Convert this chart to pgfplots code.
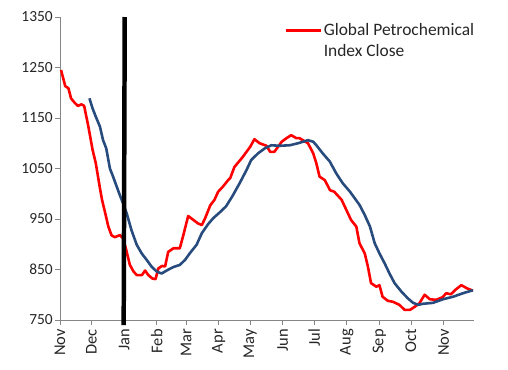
\documentclass[border=0pt]{standalone}
\usepackage{pgfplots}
\pgfplotsset{compat=1.18}
\usepackage{fontspec}
\setmainfont{Carlito}
\definecolor{redline}{RGB}{255,0,0}
\definecolor{blueline}{RGB}{40,75,125}
\definecolor{axisgray}{RGB}{134,134,134}
\begin{document}
\begin{tikzpicture}
\useasboundingbox (-60bp,-50bp) rectangle (448bp,320bp);
\begin{axis}[
  at={(0,0)}, anchor=south west,
  scale only axis, width=414bp, height=303bp,
  xmin=0, xmax=394, ymin=750, ymax=1350,
  clip=false,
  axis x line*=bottom, axis y line*=left,
  axis line style={axisgray, line width=0.8pt, -},
  tick style={axisgray, line width=0.8pt},
  tick align=outside, major tick length=5bp,
  xtick={0,30,61,92,120,151,181,212,242,273,304,334,365},
  xticklabels={Nov,Dec,Jan,Feb,Mar,Apr,May,Jun,Jul,Aug,Sep,Oct,Nov},
  ytick={750,850,950,1050,1150,1250,1350},
  /pgf/number format/assume math mode=true,
  /pgf/number format/1000 sep={},
  tick label style={black!85},
  xticklabel style={font=\fontsize{16.5}{19}\selectfont, rotate=90, anchor=east, inner sep=4bp},
  yticklabel style={font=\fontsize{15.5}{18}\selectfont, inner sep=2bp},
  legend style={draw=none, fill=none, at={(0.535,0.99)}, anchor=north west,
    font=\fontsize{17.5}{21}\selectfont, legend cell align=left,
    row sep=4.5bp,
    nodes={inner sep=1.5bp, text=black!85},
    /tikz/every even column/.append style={column sep=0pt}},
  legend image code/.code={\draw[#1] plot coordinates {(0bp,0bp)(17.5bp,0bp)(35bp,0bp)};},
]
\addplot[redline, line width=2.6pt, line join=round] coordinates {
(1,1245)(5,1213)(8,1209)(10.5,1189)(14,1180)(17,1174)(20.5,1177)(23,1174)(27,1133)(31,1087)(34,1061)(38,1011)(40,988)(43,962)(46,935)(49,918)(52,914)(57,918)(60,912)(63,889)(66.5,859)(70,846)(73,839)(78,839)(81,848)(84,839)(88,832)(91,831)(93.5,852)(97,857)(100,856)(103,885)(108,892)(114,892)(117,915)(122,956)(127,948)(131.5,941)(135,938)(138,951)(143,977)(147,988)(150.5,1004)(155,1014)(160,1027)(162,1031)(166,1053)(174,1073)(181,1093)(185,1108)(190,1100)(196.5,1095)(200,1083)(204,1083)(207.5,1093)(211,1103)(215.5,1110)(220,1116)(225,1110)(228,1110)(236,1100)(241,1080)(244,1060)(247,1034)(252,1027)(257,1007)(261,1004)(268,988)(272.5,968)(277,948)(282,935)(285,902)(290,882)(293,856)(296,823)(301,816)(304,819)(307,796)(312,788)(317,786)(323,780)(328,770)(333,770)(337.5,776)(342,783)(347,800)(352,791)(358,790)(364,795)(367.6,803)(372,801)(377,811)(382,819)(387,813)(393,808)
};
\addlegendentry{Global Petrochemical}
\addlegendimage{empty legend}
\addlegendentry{Index Close}
\addplot[blueline, line width=2.6pt, line join=round, forget plot] coordinates {
(28,1189)(31,1169)(34,1153)(38,1133)(41,1106)(44,1090)(47.5,1050)(50.5,1034)(54,1014)(57,997)(60,981)(63.5,961)(68,928)(73,899)(77.7,882)(82.5,869)(87,856)(92,846)(96.7,842)(101.5,848)(108,855)(114,859)(119,869)(123.5,882)(130,899)(135,922)(141,940)(146,952)(152,963)(158,975)(164,995)(171,1021)(177.5,1047)(182,1067)(188.5,1080)(195,1090)(201,1096)(209,1095)(218.6,1096)(226.5,1100)(236,1106)(241,1103)(244,1096)(250,1080)(256.7,1064)(263,1040)(269,1021)(276,1004)(280.5,991)(285,978)(290,958)(295,935)(299.5,902)(304,882)(309,862)(313.6,842)(318.4,823)(325,806)(331,793)(336,784)(341,780)(345,782)(355,784)(364.4,791)(374,796)(383.5,803)(393,809)
};
\addplot[black, line width=4.5pt, forget plot] coordinates {(60.6,740)(61.6,1350)};
\end{axis}
\end{tikzpicture}
\end{document}
